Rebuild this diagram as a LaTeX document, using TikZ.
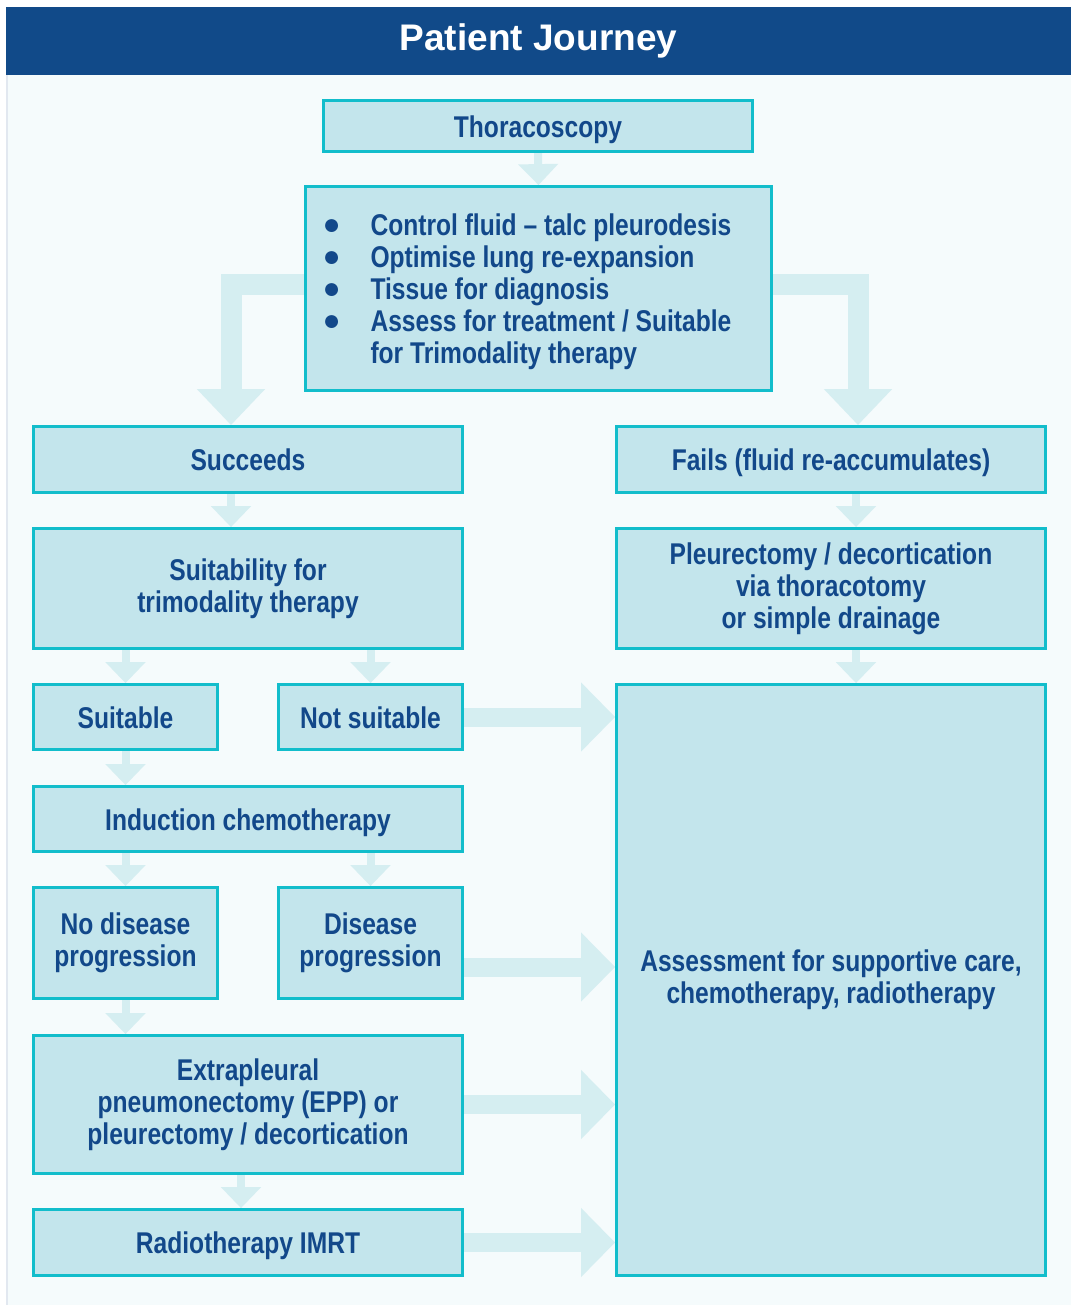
\documentclass[tikz,border=0pt]{standalone}
\usepackage{fontspec}
\newfontfamily\condfont[FakeStretch=0.82]{Liberation Sans}
\newfontfamily\headfont{Liberation Sans}
\usetikzlibrary{arrows.meta,calc}

\definecolor{headblue}{HTML}{114A89}
\definecolor{txtblue}{HTML}{12488A}
\definecolor{boxfill}{HTML}{C3E5EC}
\definecolor{boxline}{HTML}{12BDCB}
\definecolor{arrfill}{HTML}{D5EEF1}
\definecolor{paper}{HTML}{F5FBFC}
\definecolor{edgeline}{HTML}{E2E8F0}

\pgfdeclarelayer{bg}
\pgfsetlayers{bg,main}

\newcommand{\blt}{\makebox[48pt][l]{\raisebox{1pt}{\headfont\fontsize{30}{32}\selectfont ●}}}

\begin{document}
\begin{tikzpicture}[x=1pt, y=-1pt,
  box/.style={draw=boxline, line width=2.8pt, fill=boxfill, text=txtblue,
    font=\condfont\bfseries\fontsize{30}{32}\selectfont, align=center, inner sep=0pt,
    execute at begin node=\rule{0pt}{29pt},
    execute at end node=\rule[-6.5pt]{0pt}{6.5pt}},
  wide/.style={box, minimum width=429pt},
  half/.style={box, minimum width=184pt},
  smallarr/.style={draw=arrfill, line width=8pt, -{Triangle[width=39pt,length=21pt]}},
  bentarr/.style={draw=arrfill, line width=21pt, -{Triangle[width=66pt,length=36pt]}},
  sidearr/.style={draw=arrfill, line width=19pt, -{Triangle[width=67pt,length=34pt]}}]

  % --- Page and header band ---
  \useasboundingbox (0,0) rectangle (1071,1305);
  \begin{pgfonlayer}{bg}
    \fill[white] (0,0) rectangle (1071,1305);
    \fill[paper] (6,75) rectangle (1071,1305);
    \fill[edgeline] (6,75) rectangle (8,1305);
  \end{pgfonlayer}
  \fill[headblue] (6,7) rectangle (1071,75);
  \node[text=white, font=\headfont\bfseries\fontsize{37}{40}\selectfont] (title) at (538.5,41) {Patient Journey};

  % --- Top of the journey ---
  \node[wide, minimum height=51pt] (thor) at (538,126) {Thoracoscopy};
  \node[box, align=flush left, text width=432pt, inner xsep=17pt, minimum height=204pt] (bul) at (538.5,288.5)
    {\blt Control fluid \textendash{} talc pleurodesis\\
     \blt Optimise lung re-expansion\\
     \blt Tissue for diagnosis\\
     \blt Assess for treatment / Suitable\\
     \hspace*{48pt}for Trimodality therapy};

  % --- Left branch ---
  \node[wide, minimum height=66pt] (succ) at (248,459.5) {Succeeds};
  \node[wide, minimum height=120pt] (tri) at (248,588.5) {Suitability for\\trimodality therapy};
  \node[half, minimum height=65pt] (suit) at (125.5,717) {Suitable};
  \node[half, minimum height=65pt] (nsuit) at (370.5,717) {Not suitable};
  \node[wide, minimum height=65pt] (induc) at (248,819) {Induction chemotherapy};
  \node[half, minimum height=111pt] (nodis) at (125.5,943) {No disease\\progression};
  \node[half, minimum height=111pt] (dis) at (370.5,943) {Disease\\progression};
  \node[wide, minimum height=138pt] (epp) at (248,1104.5) {Extrapleural\\pneumonectomy (EPP) or\\pleurectomy / decortication};
  \node[wide, minimum height=66pt] (radio) at (248,1242.5) {Radiotherapy IMRT};

  % --- Right branch ---
  \node[wide, minimum height=66pt] (fail) at (831,459.5) {Fails (fluid re-accumulates)};
  \node[wide, minimum height=120pt] (pleur) at (831,588.5) {Pleurectomy / decortication\\via thoracotomy\\or simple drainage};
  \node[wide, minimum height=591pt] (assess) at (831,980) {Assessment for supportive care,\\chemotherapy, radiotherapy};

  % --- Arrows (behind the boxes) ---
  \begin{pgfonlayer}{bg}
    \draw[smallarr] (thor.south) -- (bul.north);
    \draw[bentarr] ($(bul.west)+(0,-3.5)$) -| ($(succ.north)+(-17,0)$);
    \draw[bentarr] ($(bul.east)+(0,-3.5)$) -| ($(fail.north)+(27,0)$);
    \draw[smallarr] ($(succ.south)+(-17,0)$) -- ($(tri.north)+(-17,0)$);
    \draw[smallarr] (tri.south -| suit.south) -- (suit.north);
    \draw[smallarr] (tri.south -| nsuit.south) -- (nsuit.north);
    \draw[smallarr] (suit.south) -- (induc.north -| suit.north);
    \draw[smallarr] (induc.south -| nodis.north) -- (nodis.north);
    \draw[smallarr] (induc.south -| dis.north) -- (dis.north);
    \draw[smallarr] (nodis.south) -- (epp.north -| nodis.south);
    \draw[smallarr] ($(epp.south)+(-7,0)$) -- ($(radio.north)+(-7,0)$);
    \draw[smallarr] ($(fail.south)+(25,0)$) -- ($(pleur.north)+(25,0)$);
    \draw[smallarr] ($(pleur.south)+(25,0)$) -- ($(assess.north)+(25,0)$);
    \draw[sidearr] (nsuit.east) -- (assess.west |- nsuit.east);
    \draw[sidearr] ($(dis.east)+(0,24)$) -- ($(assess.west |- dis.east)+(0,24)$);
    \draw[sidearr] (epp.east) -- (assess.west |- epp.east);
    \draw[sidearr] (radio.east) -- (assess.west |- radio.east);
  \end{pgfonlayer}
\end{tikzpicture}
\end{document}
